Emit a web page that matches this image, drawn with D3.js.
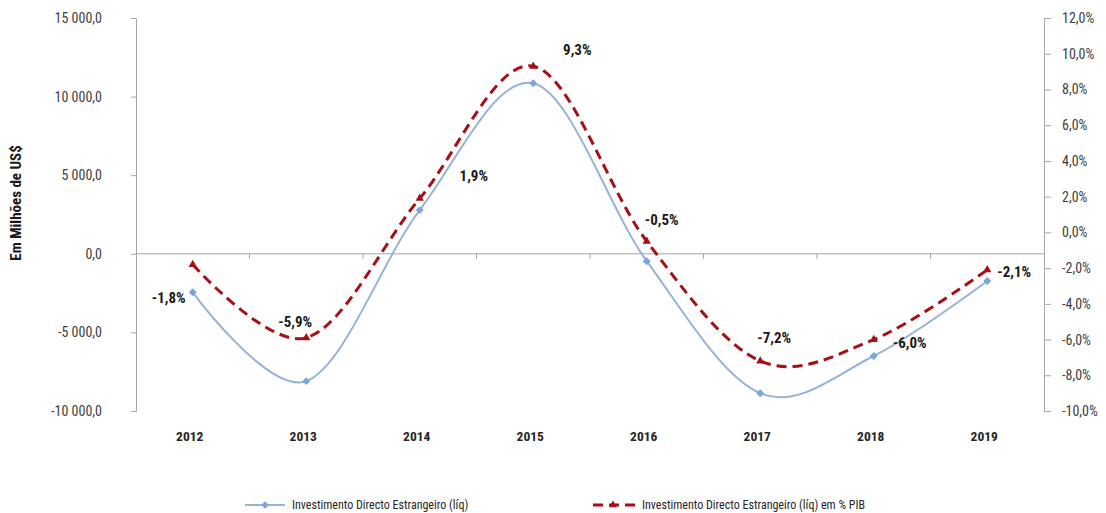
<!DOCTYPE html>
<html>
<head>
<meta charset="utf-8">
<script src="https://cdn.jsdelivr.net/npm/d3@7"></script>
<style>
    body { margin: 0; background: #fff; }
    #chart { width: 1106px; height: 513px; }
    text { font-family: "Liberation Sans Narrow", "Arial Narrow", "Roboto Condensed", sans-serif; }
    .axis path, .axis line { stroke: #a6a6a6; }
    .axis text { fill: #404040; font-size: 14px; }
</style>
</head>
<body>
<div id="chart"></div>
<script>
// Data
const years = ["2012", "2013", "2014", "2015", "2016", "2017", "2018", "2019"];
const ideValues = [-2450, -8100, 2780, 10850, -470, -8870, -6500, -1730];
const idePctPib = [-1.8, -5.9, 1.9, 9.3, -0.5, -7.2, -6.0, -2.1];
const leftTicks = [-10000, -5000, 0, 5000, 10000, 15000];
const rightTicks = [-10, -8, -6, -4, -2, 0, 2, 4, 6, 8, 10, 12];
const seriesNames = ["Investimento Directo Estrangeiro (líq)", "Investimento Directo Estrangeiro (líq) em % PIB"];

// label offsets from the red markers (layout only)
const labelOffsets = [[-24, 33], [-11, -16], [54, -23], [44, -16], [15, -22], [14, -23], [36, 3], [27, 2]];

const width = 1106;
const height = 513;
const margin = {top: 18, left: 136, right: 62, bottom: 102};

const svg = d3.select("#chart")
    .append("svg")
    .attr("width", width)
    .attr("height", height);

// Scales
const xScale = d3.scalePoint()
    .domain(years)
    .range([margin.left, width - margin.right])
    .padding(0.5);

const yLeft = d3.scaleLinear()
    .domain([-10000, 15000])
    .range([height - margin.bottom, margin.top]);

const yRight = d3.scaleLinear()
    .domain([-10, 12])
    .range([height - margin.bottom, margin.top]);

const fmtNum = function(d) {
    return d3.format(",.1f")(d).replace(/,/g, " ").replace(".", ",").replace("−", "-");
};
const fmtPct = function(d) {
    return d3.format(".1f")(d).replace(".", ",").replace("−", "-") + "%";
};

// Axes
const leftAxis = svg.append("g")
    .attr("class", "axis")
    .attr("transform", `translate(${margin.left},0)`)
    .call(d3.axisLeft(yLeft).tickValues(leftTicks).tickFormat(fmtNum).tickSize(5).tickSizeOuter(5).tickPadding(29));

const rightAxis = svg.append("g")
    .attr("class", "axis")
    .attr("transform", `translate(${width - margin.right},0)`)
    .call(d3.axisRight(yRight).tickValues(rightTicks).tickFormat(fmtPct).tickSize(7).tickSizeOuter(7).tickPadding(11));

// category axis along the zero line
const step = xScale.step();
const zeroLine = svg.append("g").attr("class", "axis");
zeroLine.append("line")
    .attr("x1", margin.left)
    .attr("x2", width - margin.right)
    .attr("y1", yLeft(0))
    .attr("y2", yLeft(0))
    .attr("stroke", "#8c8c8c");
zeroLine.selectAll(".xtick")
    .data(years.slice(1))
    .enter()
    .append("line")
    .attr("x1", function(d) { return xScale(d) - step / 2; })
    .attr("x2", function(d) { return xScale(d) - step / 2; })
    .attr("y1", yLeft(0))
    .attr("y2", yLeft(0) + 5)
    .attr("stroke", "#8c8c8c");

svg.selectAll(".xlabel")
    .data(years)
    .enter()
    .append("text")
    .attr("class", "xlabel")
    .attr("x", function(d) { return xScale(d) - 3; })
    .attr("y", 441)
    .attr("text-anchor", "middle")
    .attr("font-size", 13.5)
    .attr("font-weight", "bold")
    .attr("fill", "#262626")
    .text(function(d) { return d; });

// Y axis title
svg.append("text")
    .attr("transform", "translate(21,203) rotate(-90)")
    .attr("text-anchor", "middle")
    .attr("font-size", 15)
    .attr("font-weight", "bold")
    .attr("fill", "#1a1a1a")
    .text("Em Milhões de US$");

// Lines
const blueLine = d3.line()
    .x(function(d, i) { return xScale(years[i]); })
    .y(function(d) { return yLeft(d); })
    .curve(d3.curveCatmullRom.alpha(0));

const redLine = d3.line()
    .x(function(d, i) { return xScale(years[i]); })
    .y(function(d) { return yRight(d); })
    .curve(d3.curveCatmullRom.alpha(0));

svg.append("path")
    .datum(ideValues)
    .attr("d", blueLine)
    .attr("fill", "none")
    .attr("stroke", "#95b3d7")
    .attr("stroke-width", 2);

svg.append("path")
    .datum(idePctPib)
    .attr("d", redLine)
    .attr("fill", "none")
    .attr("stroke", "#a50f15")
    .attr("stroke-width", 3)
    .attr("stroke-dasharray", "10,6");

// Markers
svg.selectAll(".blueMark")
    .data(ideValues)
    .enter()
    .append("path")
    .attr("class", "blueMark")
    .attr("d", d3.symbol().type(d3.symbolDiamond2).size(40))
    .attr("transform", function(d, i) { return `translate(${xScale(years[i])},${yLeft(d)})`; })
    .attr("fill", "#7aa6dc");

svg.selectAll(".redMark")
    .data(idePctPib)
    .enter()
    .append("path")
    .attr("class", "redMark")
    .attr("d", d3.symbol().type(d3.symbolTriangle).size(30))
    .attr("transform", function(d, i) { return `translate(${xScale(years[i])},${yRight(d)})`; })
    .attr("fill", "#a50f15");

// Data labels
svg.selectAll(".dlabel")
    .data(idePctPib)
    .enter()
    .append("text")
    .attr("class", "dlabel")
    .attr("x", function(d, i) { return xScale(years[i]) + labelOffsets[i][0]; })
    .attr("y", function(d, i) { return yRight(d) + labelOffsets[i][1]; })
    .attr("dy", "0.35em")
    .attr("text-anchor", "middle")
    .attr("font-size", 15)
    .attr("font-weight", "bold")
    .attr("fill", "#1a1a1a")
    .text(function(d) { return fmtPct(d); });

// Legend
const legend = svg.append("g");
legend.append("line")
    .attr("x1", 245).attr("x2", 285).attr("y1", 505).attr("y2", 505)
    .attr("stroke", "#95b3d7").attr("stroke-width", 2);
legend.append("path")
    .attr("d", d3.symbol().type(d3.symbolDiamond2).size(36))
    .attr("transform", "translate(265,505)")
    .attr("fill", "#7aa6dc");
legend.append("text")
    .attr("x", 292).attr("y", 505).attr("dy", "0.35em")
    .attr("font-size", 12).attr("fill", "#262626")
    .text(seriesNames[0]);

legend.append("line")
    .attr("x1", 593).attr("x2", 635).attr("y1", 505).attr("y2", 505)
    .attr("stroke", "#a50f15").attr("stroke-width", 3)
    .attr("stroke-dasharray", "10,6");
legend.append("path")
    .attr("d", d3.symbol().type(d3.symbolTriangle).size(26))
    .attr("transform", "translate(613,505)")
    .attr("fill", "#a50f15");
legend.append("text")
    .attr("x", 642).attr("y", 505).attr("dy", "0.35em")
    .attr("font-size", 12).attr("fill", "#262626")
    .text(seriesNames[1]);
</script>
</body>
</html>
